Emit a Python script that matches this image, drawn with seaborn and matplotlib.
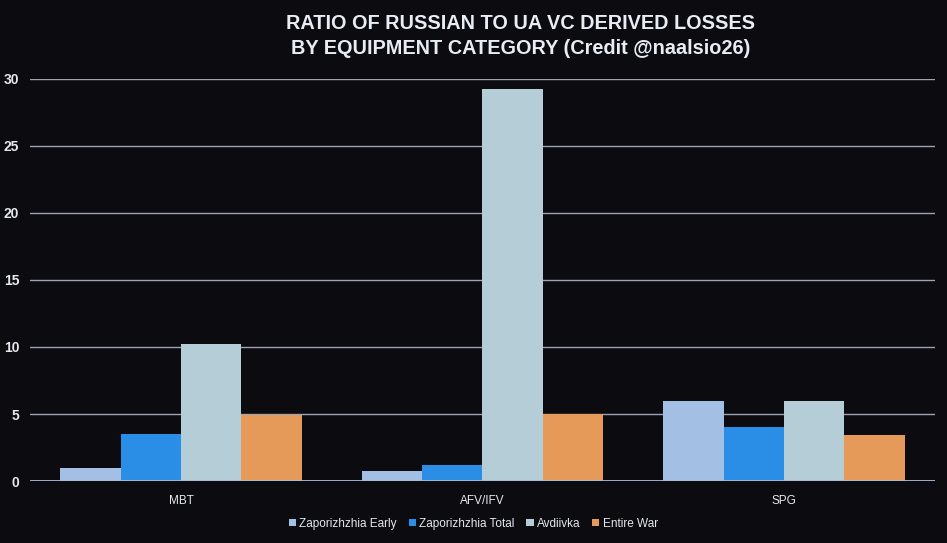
import matplotlib
matplotlib.use("Agg")
import matplotlib.pyplot as plt
import seaborn as sns
import pandas as pd

categories = ["MBT", "AFV/IFV", "SPG"]
series = ["Zaporizhzhia Early", "Zaporizhzhia Total", "Avdiivka", "Entire War"]
zap_early = [1.0, 0.75, 6.0]
zap_total = [3.5, 1.2, 4.0]
avdiivka = [10.2, 29.2, 6.0]
entire_war = [4.9, 5.0, 3.4]
colors = ["#a3bfe3", "#2a8de6", "#b5cdd6", "#e59a5a"]

rows = []
for s, vals in zip(series, [zap_early, zap_total, avdiivka, entire_war]):
    for c, v in zip(categories, vals):
        rows.append({"Category": c, "Series": s, "Value": v})
df = pd.DataFrame(rows)

sns.set_theme(style="dark")
plt.rcParams["font.family"] = ["Liberation Sans", "DejaVu Sans"]

bg = "#0b0b10"
fig = plt.figure(figsize=(9.47, 5.43), dpi=100, facecolor=bg)
ax = fig.add_axes([0.032, 0.114, 0.955, 0.741], facecolor=bg)

sns.barplot(data=df, x="Category", y="Value", hue="Series", palette=colors,
            width=0.8, ax=ax, zorder=3, edgecolor="none", saturation=1)

ax.set_ylim(0, 30)
ax.set_yticks([0, 5, 10, 15, 20, 25, 30])
ax.grid(axis="y", color="#9ea4b2", linewidth=1.0, zorder=0)
ax.grid(axis="x", visible=False)
for sp in ax.spines.values():
    sp.set_visible(False)
ax.axhline(0, color="#a8bcd8", linewidth=2, zorder=4)
ax.set_xlabel("")
ax.set_ylabel("")
ax.tick_params(axis="y", colors="#e6e8f0", labelsize=10, length=0, pad=8)
ax.tick_params(axis="x", colors="#e6e8f0", labelsize=8.5, length=0, pad=10)
for lab in ax.get_yticklabels():
    lab.set_fontweight("bold")

fig.text(0.55, 0.957, "RATIO OF RUSSIAN TO UA VC DERIVED LOSSES", ha="center",
         va="center", color="#e8ecf4", fontsize=14.3, fontweight="bold")
fig.text(0.55, 0.91, "BY EQUIPMENT CATEGORY (Credit @naalsio26)", ha="center",
         va="center", color="#e8ecf4", fontsize=14.3, fontweight="bold")

leg = ax.legend(loc="upper center", bbox_to_anchor=(0.49, -0.065), ncol=4,
                frameon=False, fontsize=8.5, handlelength=0.6, handleheight=0.6,
                handletextpad=0.3, columnspacing=1.0)
for t in leg.get_texts():
    t.set_color("#e6e8f0")

fig.savefig("out.png", dpi=100, facecolor=bg)
